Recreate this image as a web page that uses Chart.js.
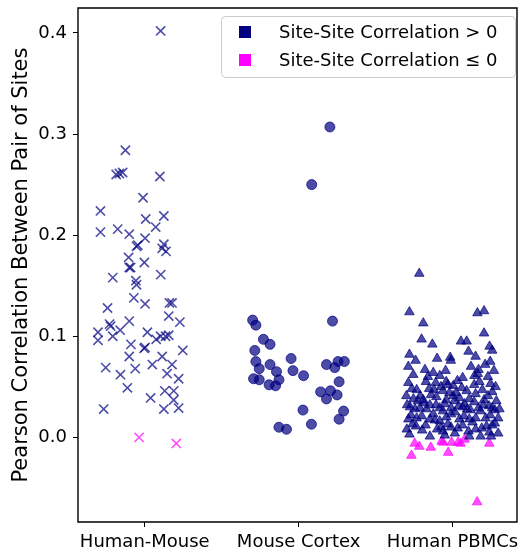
<!DOCTYPE html>
<html>
<head>
<meta charset="utf-8">
<script src="https://cdn.jsdelivr.net/npm/chart.js@4.4.1/dist/chart.umd.min.js"></script>
<style>
    body { margin: 0; background: #fff; }
    #wrap { width: 526px; height: 554px; }
</style>
</head>
<body>
<div id="wrap"><canvas id="corrChart" width="526" height="554"></canvas></div>
<script>
// Nhãn và dữ liệu
const categories = ['Human-Mouse', 'Mouse Cortex', 'Human PBMCs'];
const legendLabels = ['Site-Site Correlation > 0', 'Site-Site Correlation \u2264 0'];
const yTicks = [0.0, 0.1, 0.2, 0.3, 0.4];

// [vị trí x (có jitter), tương quan]
const humanMousePos = [
    [0.103, 0.402], [-0.126, 0.284], [-0.186, 0.260], [-0.165, 0.261], [-0.144, 0.262],
    [0.098, 0.258], [-0.011, 0.237], [-0.288, 0.224], [-0.288, 0.203], [0.124, 0.219],
    [0.006, 0.216], [-0.176, 0.206], [-0.101, 0.201], [0.071, 0.208], [0.002, 0.197],
    [-0.054, 0.189], [-0.045, 0.190], [0.124, 0.191], [0.113, 0.187], [0.138, 0.184],
    [-0.105, 0.178], [-0.101, 0.168], [-0.092, 0.168], [-0.003, 0.173], [-0.208, 0.158],
    [0.104, 0.161], [-0.058, 0.155], [-0.054, 0.151], [-0.071, 0.138], [0.002, 0.132],
    [-0.242, 0.128], [0.160, 0.133], [0.177, 0.133], [-0.101, 0.115], [0.156, 0.120],
    [0.228, 0.114], [-0.229, 0.112], [-0.222, 0.110], [-0.304, 0.104], [-0.304, 0.096],
    [-0.160, 0.106], [-0.208, 0.100], [0.017, 0.104], [0.074, 0.097], [0.103, 0.100],
    [0.156, 0.101], [0.135, 0.100], [-0.090, 0.092], [-0.004, 0.088], [0.002, 0.089],
    [0.247, 0.086], [-0.101, 0.080], [0.113, 0.080], [-0.254, 0.069], [-0.062, 0.068],
    [0.049, 0.072], [0.177, 0.072], [-0.158, 0.062], [0.145, 0.063], [0.220, 0.058],
    [-0.113, 0.049], [0.130, 0.046], [0.188, 0.046], [0.038, 0.039], [0.188, 0.037],
    [-0.267, 0.028], [0.124, 0.028], [0.220, 0.029]
];
const humanMouseNeg = [[-0.037, 0.000], [0.205, -0.006]];

const mouseCortexPos = [
    [0.701, 0.116], [0.722, 0.111], [1.220, 0.115], [0.771, 0.097], [0.814, 0.092],
    [0.715, 0.086], [0.722, 0.075], [0.744, 0.068], [0.814, 0.072], [0.856, 0.065],
    [0.951, 0.078], [0.963, 0.066], [1.032, 0.061], [0.707, 0.058], [0.744, 0.057],
    [0.872, 0.057], [0.808, 0.052], [0.850, 0.051], [1.181, 0.072], [1.235, 0.069],
    [1.256, 0.075], [1.297, 0.075], [1.263, 0.055], [1.143, 0.045], [1.207, 0.046],
    [1.181, 0.038], [1.250, 0.042], [1.028, 0.027], [1.292, 0.026], [1.263, 0.018],
    [0.872, 0.010], [0.921, 0.008], [1.083, 0.013], [1.203, 0.307], [1.085, 0.250]
];
const mouseCortexNeg = [];

const humanPbmcPos = [
    [1.784, 0.162], [1.720, 0.124], [2.162, 0.123], [2.205, 0.125], [1.810, 0.113],
    [1.799, 0.097], [1.869, 0.092], [2.205, 0.103], [2.055, 0.095], [2.092, 0.095],
    [2.241, 0.090], [2.258, 0.086], [2.104, 0.085], [1.720, 0.082], [1.985, 0.079],
    [1.713, 0.070], [1.821, 0.067], [2.212, 0.072], [2.169, 0.067], [2.269, 0.066],
    [1.989, 0.076], [2.164, 0.063], [2.143, 0.061], [1.917, 0.061], [2.066, 0.059],
    [1.713, 0.054], [1.827, 0.055], [1.891, 0.054], [1.959, 0.055], [1.970, 0.052],
    [2.141, 0.052], [2.247, 0.053], [1.767, 0.047], [1.848, 0.048], [1.938, 0.046],
    [2.023, 0.044], [2.092, 0.046], [2.194, 0.047], [2.258, 0.045], [1.746, 0.038],
    [1.810, 0.037], [1.895, 0.040], [1.959, 0.037], [2.013, 0.036], [2.109, 0.038],
    [2.141, 0.035], [2.205, 0.037], [1.724, 0.030], [1.788, 0.029], [1.853, 0.032],
    [1.917, 0.029], [1.991, 0.029], [2.066, 0.030], [2.169, 0.029], [2.237, 0.031],
    [1.756, 0.028], [1.831, 0.028], [1.938, 0.026], [2.183, 0.026], [2.258, 0.029],
    [1.713, 0.018], [1.767, 0.019], [1.853, 0.018], [1.917, 0.016], [1.991, 0.023],
    [2.045, 0.018], [2.109, 0.018], [2.151, 0.019], [2.215, 0.019], [2.297, 0.019],
    [1.703, 0.008], [1.763, 0.011], [1.927, 0.010], [1.938, 0.006], [2.034, 0.009],
    [2.104, 0.006], [2.190, 0.009], [2.258, 0.012], [2.297, 0.004], [1.853, 0.001],
    [2.109, 0.001], [2.183, 0.001], [1.875, 0.064], [1.925, 0.050], [2.032, 0.056],
    [2.003, 0.041], [1.790, 0.041], [2.079, 0.033], [1.875, 0.023], [1.970, 0.013],
    [1.803, 0.007], [2.221, 0.011], [1.893, 0.032], [2.117, 0.027], [2.015, 0.025],
    [1.745, 0.062], [1.955, 0.066], [2.120, 0.070], [2.230, 0.060], [1.840, 0.060],
    [1.735, 0.048], [1.880, 0.047], [2.005, 0.051], [2.060, 0.049], [2.175, 0.055],
    [2.280, 0.050], [1.700, 0.041], [1.775, 0.036], [1.860, 0.042], [1.980, 0.044],
    [2.045, 0.039], [2.150, 0.043], [2.230, 0.041], [2.285, 0.036], [1.705, 0.032],
    [1.815, 0.034], [1.950, 0.033], [2.040, 0.031], [2.095, 0.028], [2.200, 0.032],
    [2.275, 0.027], [1.730, 0.022], [1.800, 0.021], [1.885, 0.017], [1.960, 0.020],
    [2.075, 0.021], [2.130, 0.015], [2.245, 0.022], [2.305, 0.028], [1.740, 0.013],
    [1.825, 0.012], [1.900, 0.008], [1.990, 0.010], [2.065, 0.012], [2.150, 0.008],
    [2.240, 0.005], [2.275, 0.014], [1.720, 0.003], [1.950, 0.002], [2.015, 0.004],
    [2.250, 0.001], [1.900, 0.078], [2.150, 0.080], [2.245, 0.075], [1.760, 0.076]
];
const humanPbmcNeg = [
    [1.754, -0.006], [1.784, -0.009], [1.733, -0.018], [1.859, -0.010], [1.929, -0.004],
    [1.940, -0.005], [1.972, -0.015], [1.994, -0.005], [2.036, -0.005], [2.053, -0.006],
    [2.079, -0.002], [2.239, -0.006], [2.160, -0.064]
];

const posColor = 'rgba(0, 0, 128, 0.7)';
const negColor = 'rgba(255, 0, 255, 0.7)';
const legendColors = ['#000080', '#ff00ff'];

function toPoints(list) {
    return list.map(p => ({ x: p[0], y: p[1] }));
}

function makeSet(list, color, style, radius) {
    return {
        data: toPoints(list),
        pointStyle: style,
        pointRadius: radius,
        pointHoverRadius: radius,
        backgroundColor: color,
        borderColor: color,
        pointBorderWidth: style === 'crossRot' ? 1.6 : 1,
        showLine: false
    };
}

// Khung viền + chú giải bên trong
const framePlugin = {
    id: 'boxFrame',
    afterDraw(chart) {
        const ctx = chart.ctx;
        const a = chart.chartArea;
        const l = Math.round(a.left), r = Math.round(a.right) - 1;
        const t = Math.round(a.top), b = Math.round(a.bottom);
        ctx.save();
        ctx.strokeStyle = '#000';
        ctx.lineWidth = 1.4;
        ctx.beginPath();
        ctx.rect(l, t, r - l, b - t);
        ctx.stroke();

        // chú giải
        const bx = 221, by = 16, bw = 294, bh = 61;
        ctx.fillStyle = 'rgba(255,255,255,0.8)';
        ctx.strokeStyle = '#cccccc';
        ctx.lineWidth = 1;
        ctx.beginPath();
        ctx.roundRect(bx + 0.5, by + 0.5, bw, bh, 4);
        ctx.fill();
        ctx.stroke();
        ctx.font = '18px "DejaVu Sans"';
        ctx.textBaseline = 'middle';
        legendLabels.forEach((txt, i) => {
            const cy = 32 + i * 28;
            ctx.fillStyle = legendColors[i];
            ctx.fillRect(239, cy - 6, 12, 12);
            ctx.fillStyle = '#000';
            ctx.fillText(txt, 279, cy + 1);
        });
        ctx.restore();
    }
};

function renderChart() {
    const ctx = document.getElementById('corrChart').getContext('2d');
    new Chart(ctx, {
        type: 'scatter',
        data: {
            datasets: [
                makeSet(humanMousePos, posColor, 'crossRot', 6.5),
                makeSet(humanMouseNeg, negColor, 'crossRot', 6.5),
                makeSet(mouseCortexPos, posColor, 'circle', 5),
                makeSet(mouseCortexNeg, negColor, 'circle', 5),
                makeSet(humanPbmcPos, posColor, 'triangle', 5.5),
                makeSet(humanPbmcNeg, negColor, 'triangle', 5.5)
            ]
        },
        options: {
            responsive: false,
            animation: false,
            devicePixelRatio: 1,
            layout: { padding: { top: 6, right: 2, left: 0, bottom: 0 } },
            plugins: {
                legend: { display: false },
                tooltip: { enabled: false }
            },
            scales: {
                x: {
                    type: 'linear',
                    min: -0.434,
                    max: 2.425,
                    afterFit(scale) {
                        scale.height = 32;
                        scale.paddingLeft = 0;
                        scale.paddingRight = 0;
                    },
                    afterBuildTicks(scale) {
                        scale.ticks = categories.map((c, i) => ({ value: i }));
                    },
                    ticks: {
                        autoSkip: false,
                        maxRotation: 0,
                        padding: 5,
                        color: '#000',
                        font: { family: 'DejaVu Sans', size: 18 },
                        callback: (v, i) => categories[i]
                    },
                    grid: { drawOnChartArea: false, drawTicks: true, tickLength: 5, color: '#000', tickColor: '#000' },
                    border: { display: false }
                },
                y: {
                    min: -0.0837,
                    max: 0.4246,
                    afterFit(scale) {
                        scale.width = 78;
                        scale.paddingTop = 0;
                        scale.paddingBottom = 0;
                    },
                    afterBuildTicks(scale) {
                        scale.ticks = yTicks.map(v => ({ value: v }));
                    },
                    ticks: {
                        padding: 6,
                        color: '#000',
                        font: { family: 'DejaVu Sans', size: 18 },
                        callback: v => v.toFixed(1)
                    },
                    grid: { drawOnChartArea: false, drawTicks: true, tickLength: 5, color: '#000', tickColor: '#000' },
                    border: { display: false },
                    title: {
                        display: true,
                        text: 'Pearson Correlation Between Pair of Sites',
                        color: '#000',
                        font: { family: 'DejaVu Sans', size: 21 },
                        padding: { top: 9, bottom: 0 }
                    }
                }
            }
        },
        plugins: [framePlugin]
    });
}

window.onload = function () {
    renderChart();
};
</script>
</body>
</html>
